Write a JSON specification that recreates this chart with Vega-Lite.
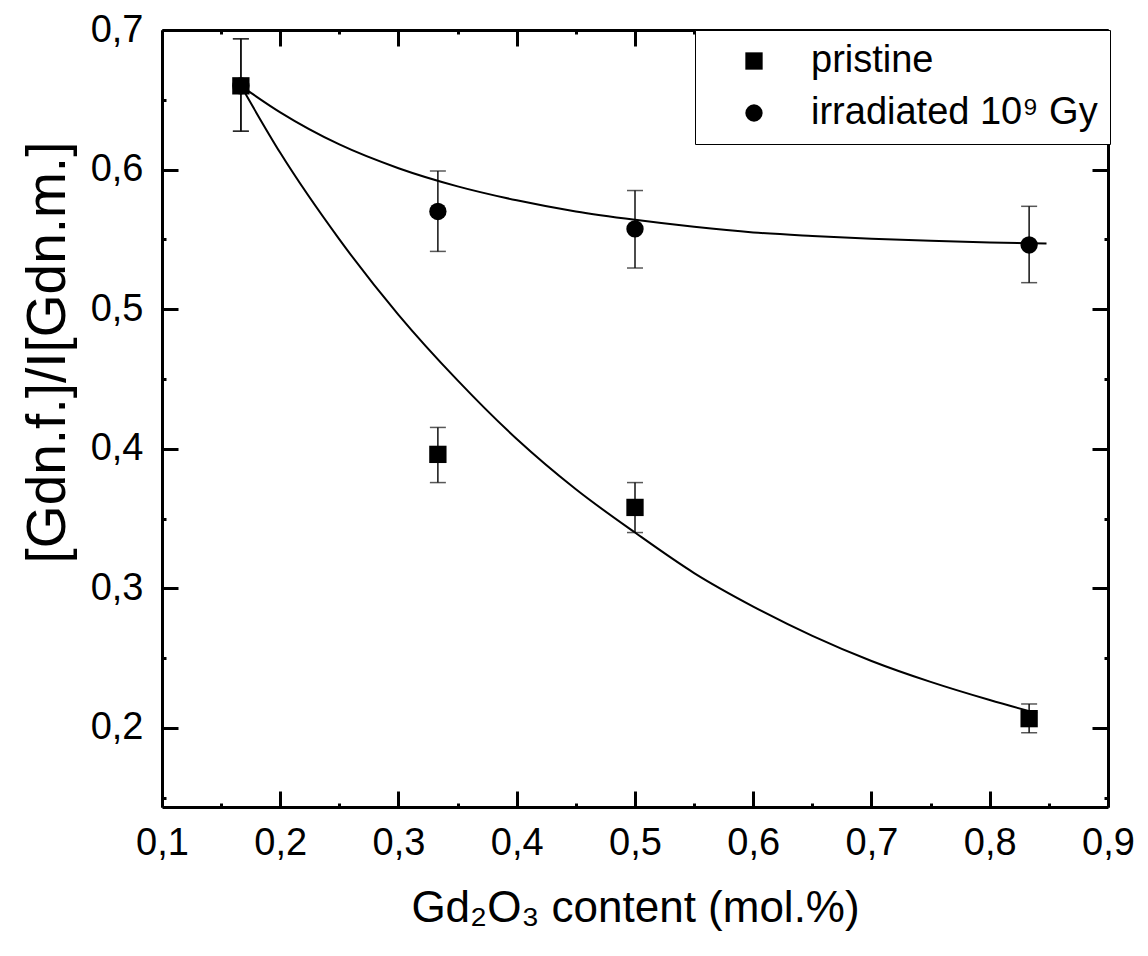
{
  "$schema": "https://vega.github.io/schema/vega-lite/v6.json",
  "width": 946,
  "height": 777,
  "autosize": {"type": "none"},
  "padding": {"left": 162, "top": 30, "right": 40, "bottom": 149},
  "background": "white",
  "config": {
    "view": {"stroke": null},
    "font": "Liberation Sans",
    "axis": {"grid": false, "domainColor": "black", "domainWidth": 3, "tickColor": "black", "tickWidth": 3, "labelColor": "black", "titleColor": "black", "labelFlush": false, "labelOverlap": false, "titleFontWeight": "normal"}
  },
  "datasets": {
    "pts": [
      {"x": 0.1667, "y": 0.660, "lo": 0.6275, "hi": 0.6937, "series": "pristine"},
      {"x": 0.3333, "y": 0.396, "lo": 0.3758, "hi": 0.4153, "series": "pristine"},
      {"x": 0.5, "y": 0.358, "lo": 0.340, "hi": 0.3758, "series": "pristine"},
      {"x": 0.8333, "y": 0.2067, "lo": 0.1966, "hi": 0.2172, "series": "pristine"},
      {"x": 0.1667, "y": 0.660, "lo": 0.6275, "hi": 0.6937, "series": "irradiated 10⁹ Gy"},
      {"x": 0.3333, "y": 0.570, "lo": 0.5414, "hi": 0.599, "series": "irradiated 10⁹ Gy"},
      {"x": 0.5, "y": 0.5575, "lo": 0.5295, "hi": 0.585, "series": "irradiated 10⁹ Gy"},
      {"x": 0.8333, "y": 0.546, "lo": 0.519, "hi": 0.5737, "series": "irradiated 10⁹ Gy"}
    ],
    "fit": [
      {"x": 0.1667, "y": 0.660, "series": "pristine"},
      {"x": 0.2, "y": 0.612, "series": "pristine"},
      {"x": 0.25, "y": 0.550, "series": "pristine"},
      {"x": 0.3, "y": 0.496, "series": "pristine"},
      {"x": 0.35, "y": 0.449, "series": "pristine"},
      {"x": 0.4, "y": 0.407, "series": "pristine"},
      {"x": 0.45, "y": 0.371, "series": "pristine"},
      {"x": 0.5, "y": 0.340, "series": "pristine"},
      {"x": 0.55, "y": 0.311, "series": "pristine"},
      {"x": 0.6, "y": 0.287, "series": "pristine"},
      {"x": 0.65, "y": 0.266, "series": "pristine"},
      {"x": 0.7, "y": 0.248, "series": "pristine"},
      {"x": 0.75, "y": 0.233, "series": "pristine"},
      {"x": 0.8, "y": 0.220, "series": "pristine"},
      {"x": 0.84, "y": 0.2105, "series": "pristine"},
      {"x": 0.1667, "y": 0.660, "series": "irradiated"},
      {"x": 0.2, "y": 0.641, "series": "irradiated"},
      {"x": 0.25, "y": 0.618, "series": "irradiated"},
      {"x": 0.3, "y": 0.601, "series": "irradiated"},
      {"x": 0.35, "y": 0.588, "series": "irradiated"},
      {"x": 0.4, "y": 0.578, "series": "irradiated"},
      {"x": 0.45, "y": 0.570, "series": "irradiated"},
      {"x": 0.5, "y": 0.564, "series": "irradiated"},
      {"x": 0.55, "y": 0.559, "series": "irradiated"},
      {"x": 0.6, "y": 0.555, "series": "irradiated"},
      {"x": 0.65, "y": 0.5525, "series": "irradiated"},
      {"x": 0.7, "y": 0.5505, "series": "irradiated"},
      {"x": 0.75, "y": 0.549, "series": "irradiated"},
      {"x": 0.8, "y": 0.5478, "series": "irradiated"},
      {"x": 0.848, "y": 0.547, "series": "irradiated"}
    ]
  },
  "layer": [
    {
      "data": {"name": "pts"},
      "mark": {"type": "rule", "color": "#111", "strokeWidth": 1.5},
      "encoding": {
        "x": {"field": "x", "type": "quantitative", "scale": {"domain": [0.1, 0.9], "zero": false, "nice": false},
          "axis": {"orient": "bottom", "values": [0.1, 0.15, 0.2, 0.25, 0.3, 0.35, 0.4, 0.45, 0.5, 0.55, 0.6, 0.65, 0.7, 0.75, 0.8, 0.85, 0.9],
            "tickSize": {"condition": {"test": "abs(datum.value*10-round(datum.value*10))<0.01", "value": -16}, "value": -4},
            "labelExpr": "abs(datum.value*10-round(datum.value*10))<0.01 ? replace(format(datum.value, '.1f'), '.', ',') : ''",
            "labelFontSize": 38, "labelPadding": 33,
            "title": "Gd₂O₃ content (mol.%)", "titleFontSize": 44, "titleY": 114, "titleBaseline": "alphabetic"}},
        "y": {"field": "lo", "type": "quantitative", "scale": {"domain": [0.1434, 0.7], "zero": false, "nice": false},
          "axis": {"orient": "left", "values": [0.15, 0.2, 0.25, 0.3, 0.35, 0.4, 0.45, 0.5, 0.55, 0.6, 0.65, 0.7],
            "tickSize": {"condition": {"test": "abs(datum.value*10-round(datum.value*10))<0.01", "value": -16}, "value": -4},
            "labelExpr": "abs(datum.value*10-round(datum.value*10))<0.01 ? replace(format(datum.value, '.1f'), '.', ',') : ''",
            "labelFontSize": 38, "labelPadding": 35,
            "title": "[Gdn.f.]/I[Gdn.m.]", "titleFontSize": 55, "titleX": -98, "titleY": 322, "titleAngle": -90, "titleAlign": "center", "titleBaseline": "alphabetic"}},
        "y2": {"field": "hi"}
      }
    },
    {
      "data": {"name": "pts"},
      "mark": {"type": "tick", "orient": "horizontal", "color": "#111", "size": 16, "thickness": 1.5},
      "encoding": {
        "x": {"field": "x", "type": "quantitative",
          "axis": {"orient": "top", "values": [0.1, 0.15, 0.2, 0.25, 0.3, 0.35, 0.4, 0.45, 0.5, 0.55, 0.6, 0.65, 0.7, 0.75, 0.8, 0.85, 0.9],
            "tickSize": {"condition": {"test": "abs(datum.value*10-round(datum.value*10))<0.01", "value": -16}, "value": -4},
            "labels": false, "title": null}},
        "y": {"field": "lo", "type": "quantitative",
          "axis": {"orient": "right", "values": [0.15, 0.2, 0.25, 0.3, 0.35, 0.4, 0.45, 0.5, 0.55, 0.6, 0.65, 0.7],
            "tickSize": {"condition": {"test": "abs(datum.value*10-round(datum.value*10))<0.01", "value": -16}, "value": -4},
            "labels": false, "title": null}}
      }
    },
    {
      "data": {"name": "pts"},
      "mark": {"type": "tick", "orient": "horizontal", "color": "#111", "size": 16, "thickness": 1.5},
      "encoding": {
        "x": {"field": "x", "type": "quantitative", "axis": null},
        "y": {"field": "hi", "type": "quantitative", "axis": null}
      }
    },
    {
      "data": {"name": "fit"},
      "mark": {"type": "line", "color": "black", "strokeWidth": 2, "interpolate": "monotone"},
      "encoding": {
        "x": {"field": "x", "type": "quantitative", "axis": null},
        "y": {"field": "y", "type": "quantitative", "axis": null},
        "detail": {"field": "series"}
      }
    },
    {
      "data": {"name": "pts"},
      "mark": {"type": "point", "filled": true, "color": "black", "opacity": 1, "size": 300},
      "encoding": {
        "x": {"field": "x", "type": "quantitative", "axis": null},
        "y": {"field": "y", "type": "quantitative", "axis": null},
        "shape": {"field": "series", "type": "nominal",
          "scale": {"domain": ["pristine", "irradiated 10⁹ Gy"], "range": ["square", "circle"]},
          "legend": {"title": null, "orient": "none", "legendX": 533, "legendY": 0, "padding": 12,
            "strokeColor": "black", "fillColor": "white", "labelFontSize": 38, "labelFont": "Liberation Sans", "labelColor": "black",
            "labelLimit": 400, "symbolSize": 300, "symbolFillColor": "black", "symbolStrokeColor": "black", "symbolOpacity": 1,
            "symbolOffset": 28, "labelOffset": 38, "rowPadding": 14}}
      }
    }
  ],
  "resolve": {"axis": {"x": "independent", "y": "independent"}}
}
